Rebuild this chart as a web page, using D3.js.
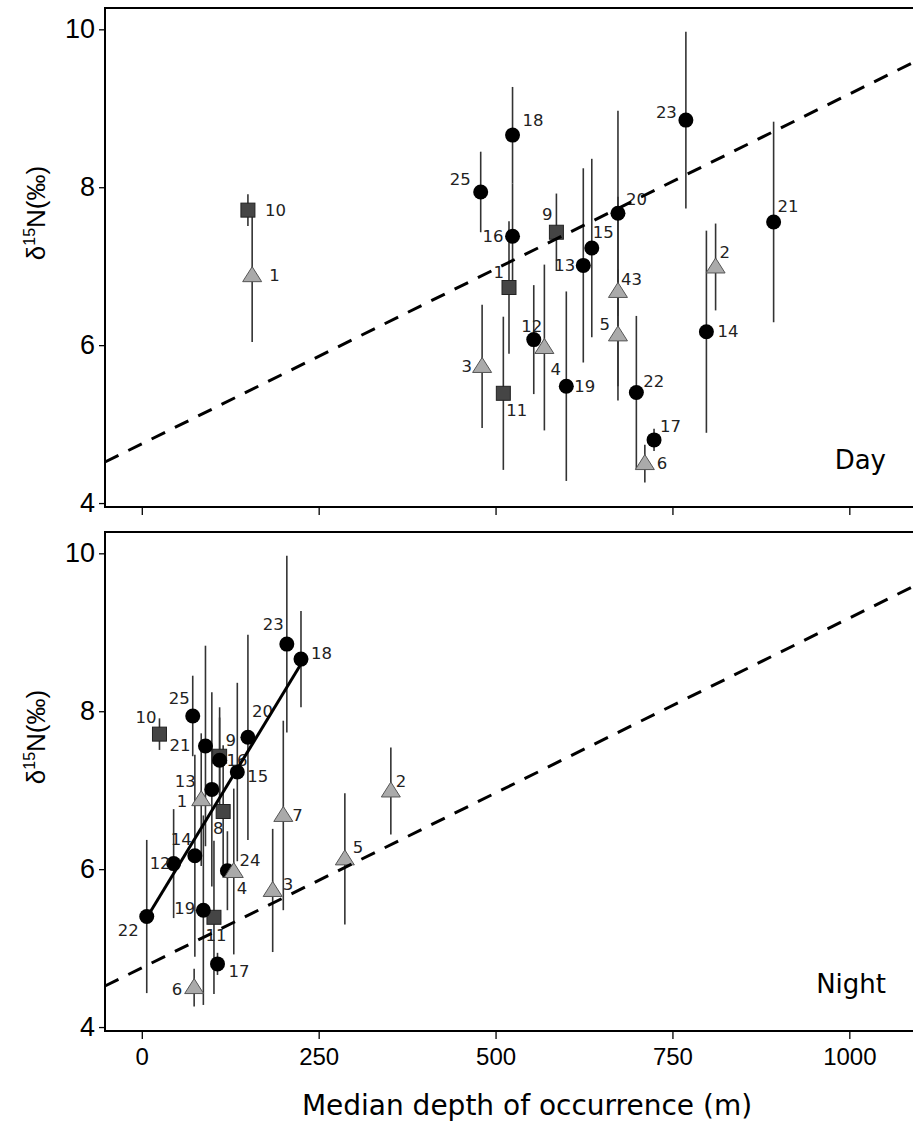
<!DOCTYPE html>
<html lang="en">
<head>
<meta charset="utf-8">
<title>d15N vs median depth</title>
<script type="text/javascript" src="https://d3js.org/d3.v7.min.js"></script>
<style>
body { margin: 0; background: #fff; }
.tick text { font-family: "Liberation Sans", Arial, sans-serif; }
.pt-label { font-family: "DejaVu Sans", Verdana, sans-serif; font-size: 16.5px; fill: #222; }
</style>
</head>
<body>
<div id="chart"></div>
<script type="text/javascript">

// species id, marker type, mean d15N and half error bar
var ids    = [1, 2, 3, 4, 5, 6, 7, 8, 9, 10, 11, 12, 13, 14, 15, 16, 17, 18, 19, 20, 21, 22, 23, 24, 25];
var shapes = ["tri","tri","tri","tri","tri","tri","tri","sq","sq","sq","sq",
              "dot","dot","dot","dot","dot","dot","dot","dot","dot","dot","dot","dot","dot","dot"];
var d15N   = [6.88, 6.99, 5.73, 5.97, 6.13, 4.50, 6.68, 6.73, 7.43, 7.71, 5.39, 6.07, 7.01,
              6.17, 7.23, 7.38, 4.80, 8.66, 5.48, 7.67, 7.56, 5.40, 8.85, 5.98, 7.94];
var errBar = [0.84, 0.55, 0.78, 1.05, 0.83, 0.24, 1.20, 0.84, 0.49, 0.20, 0.97, 0.69, 1.23,
              1.28, 1.13, 0.67, 0.14, 0.61, 1.20, 1.30, 1.27, 0.97, 1.12, 0.50, 0.51];

// median depth (m), day and night (24 not plotted by day)
var dayDepth   = [156, 811, 481, 569, 673, 711, 673, 519, 586, 150, 511, 554, 624,
                  798, 636, 524, 724, 524, 600, 673, 893, 699, 769, null, 479];
var nightDepth = [84, 352, 185, 130, 287, 74, 200, 115, 110, 25, 102, 45, 99,
                  75, 135, 110, 107, 225, 87, 150, 90, 7, 205, 121, 72];

// point labels as printed in each panel
var dayLabels   = ["1","2","3","4","5","6","43","1","9","10","11","12","13","14","15","16","17","18","19","20","21","22","23","24","25"];
var nightLabels = ["1","2","3","4","5","6","7","8","9","10","11","12","13","14","15","16","17","18","19","20","21","22","23","24","25"];

// fitted lines: [intercept, slope, from depth, to depth]
var dashedFit = [4.75, 0.00443, -52, 1090];
var nightFit  = [5.28, 0.01475, 7, 225];

var xTicks = [0, 250, 500, 750, 1000];
var yTicks = [4, 6, 8, 10];

// label placement [dx, dy, anchor] around each point
var dayLabPos = {
  1:[17,0,"start"], 2:[4,-14,"start"], 3:[-10,0,"end"], 4:[6,22,"start"], 5:[-8,-10,"end"],
  6:[12,0,"start"], 7:[3,-12,"start"], 8:[-5,-15,"end"], 9:[-4,-18,"end"], 10:[17,0,"start"],
  11:[3,17,"start"], 12:[-2,-13,"middle"], 13:[-8,0,"end"], 14:[11,0,"start"], 15:[1,-16,"start"],
  16:[-9,0,"end"], 17:[6,-13,"start"], 18:[10,-15,"start"], 19:[8,0,"start"], 20:[8,-14,"start"],
  21:[4,-15,"start"], 22:[7,-11,"start"], 23:[-9,-8,"end"], 25:[-10,-12,"end"]
};
var nightLabPos = {
  1:[-14,2,"end"], 2:[5,-9,"start"], 3:[10,-6,"start"], 4:[3,17,"start"], 5:[8,-11,"start"],
  6:[-12,2,"end"], 7:[9,0,"start"], 8:[-5,17,"middle"], 9:[6,-16,"start"], 10:[-3,-17,"end"],
  11:[2,18,"middle"], 12:[-3,0,"end"], 13:[-16,-8,"end"], 14:[-3,-16,"end"], 15:[10,4,"start"],
  16:[7,0,"start"], 17:[11,8,"start"], 18:[10,-6,"start"], 19:[-8,-2,"end"], 20:[4,-26,"start"],
  21:[-15,0,"end"], 22:[-8,14,"end"], 23:[-3,-20,"end"], 24:[12,-10,"start"], 25:[-3,-17,"end"]
};

var w = 913, h = 1127;
var left = 105, right = 913;

var svg = d3.select("#chart").append("svg")
            .attr("width", w)
            .attr("height", h)
            .style("background", "#fff");

var x = d3.scaleLinear().domain([-52, 1090]).range([left, right]);

var panels = [
  {name: "Day",   top: 8,   bottom: 507,  depth: dayDepth,   labels: dayLabels,   pos: dayLabPos,   fit: false, showX: false},
  {name: "Night", top: 532, bottom: 1031, depth: nightDepth, labels: nightLabels, pos: nightLabPos, fit: true,  showX: true}
];

var tri = "M0,-9L9.5,6L-9.5,6Z";

panels.forEach(function(p) {
  var y = d3.scaleLinear().domain([3.95, 10.27]).range([p.bottom, p.top]);
  var g = svg.append("g");

  var rows = ids.map(function(id, i) {
    return {id: id, shape: shapes[i], v: d15N[i], e: errBar[i], d: p.depth[i], lab: p.labels[i]};
  }).filter(function(r) { return r.d !== null; });

  // error bars
  g.selectAll("line.err").data(rows).enter().append("line")
    .attr("class", "err")
    .attr("x1", function(r) { return x(r.d); })
    .attr("x2", function(r) { return x(r.d); })
    .attr("y1", function(r) { return y(r.v - r.e); })
    .attr("y2", function(r) { return y(r.v + r.e); })
    .attr("stroke", "#333")
    .attr("stroke-width", 1.6);

  // markers: squares, then circles, then triangles on top
  g.selectAll("rect.sq").data(rows.filter(function(r) { return r.shape === "sq"; })).enter()
    .append("rect")
    .attr("x", function(r) { return x(r.d) - 7; })
    .attr("y", function(r) { return y(r.v) - 7; })
    .attr("width", 14).attr("height", 14)
    .attr("fill", "#454545").attr("stroke", "#222").attr("stroke-width", 1);

  g.selectAll("circle.dot").data(rows.filter(function(r) { return r.shape === "dot"; })).enter()
    .append("circle")
    .attr("cx", function(r) { return x(r.d); })
    .attr("cy", function(r) { return y(r.v); })
    .attr("r", 7.5)
    .attr("fill", "#000");

  g.selectAll("path.tri").data(rows.filter(function(r) { return r.shape === "tri"; })).enter()
    .append("path")
    .attr("d", tri)
    .attr("transform", function(r) { return "translate(" + x(r.d) + "," + y(r.v) + ")"; })
    .attr("fill", "#aaa").attr("stroke", "#555").attr("stroke-width", 1);

  // point labels
  g.selectAll("text.pt-label").data(rows).enter().append("text")
    .attr("class", "pt-label")
    .attr("x", function(r) { return x(r.d) + p.pos[r.id][0]; })
    .attr("y", function(r) { return y(r.v) + p.pos[r.id][1]; })
    .attr("text-anchor", function(r) { return p.pos[r.id][2]; })
    .attr("dominant-baseline", "central")
    .text(function(r) { return r.lab; });

  // dashed fit, same in both panels
  var dash = d3.line()
    .x(function(d) { return x(d); })
    .y(function(d) { return y(dashedFit[0] + dashedFit[1] * d); });
  g.append("path")
    .attr("d", dash([dashedFit[2], dashedFit[3]]))
    .attr("fill", "none").attr("stroke", "#000")
    .attr("stroke-width", 3).attr("stroke-dasharray", "15,11");

  if (p.fit) {
    var solid = d3.line()
      .x(function(d) { return x(d); })
      .y(function(d) { return y(nightFit[0] + nightFit[1] * d); });
    g.append("path")
      .attr("d", solid([nightFit[2], nightFit[3]]))
      .attr("fill", "none").attr("stroke", "#000").attr("stroke-width", 3);
  }

  // frame (right side runs off the page)
  g.append("path")
    .attr("d", "M" + (right + 5) + "," + p.top + "H" + left + "V" + p.bottom + "H" + (right + 5))
    .attr("fill", "none").attr("stroke", "#000").attr("stroke-width", 2);

  // axes
  var ya = g.append("g").attr("transform", "translate(" + left + ",0)")
    .call(d3.axisLeft(y).tickValues(yTicks).tickSize(6).tickPadding(4).tickFormat(d3.format("d")));
  ya.select(".domain").remove();
  ya.selectAll("text").attr("font-size", 27).attr("fill", "#000");
  ya.selectAll("line").attr("stroke-width", 1.3);

  var xa = g.append("g").attr("transform", "translate(0," + p.bottom + ")")
    .call(d3.axisBottom(x).tickValues(xTicks).tickSize(8).tickPadding(9)
      .tickFormat(p.showX ? d3.format("d") : ""));
  xa.select(".domain").remove();
  xa.selectAll("line").attr("stroke-width", 1.3);
  xa.selectAll("text")
    .attr("font-size", 24)
    .attr("font-family", "'DejaVu Sans', Verdana, sans-serif")
    .attr("fill", "#000");

  // y title
  var yt = g.append("text")
    .attr("transform", "translate(45," + (p.top + 205) + ") rotate(-90)")
    .attr("text-anchor", "middle")
    .attr("font-family", "'Liberation Sans', Arial, sans-serif")
    .attr("font-size", 26);
  yt.append("tspan").text("δ");
  yt.append("tspan").attr("font-size", 16).attr("dy", -10).text("15");
  yt.append("tspan").attr("dy", 10).text("N(‰)");

  // panel name
  g.append("text")
    .attr("x", 886).attr("y", p.bottom - 38)
    .attr("text-anchor", "end")
    .attr("font-family", "'DejaVu Sans', Verdana, sans-serif")
    .attr("font-size", 26)
    .text(p.name);
});

svg.append("text")
  .attr("x", 527).attr("y", 1115)
  .attr("text-anchor", "middle")
  .attr("font-family", "'DejaVu Sans', Verdana, sans-serif")
  .attr("font-size", 28)
  .text("Median depth of occurrence (m)");

</script>
</body>
</html>
